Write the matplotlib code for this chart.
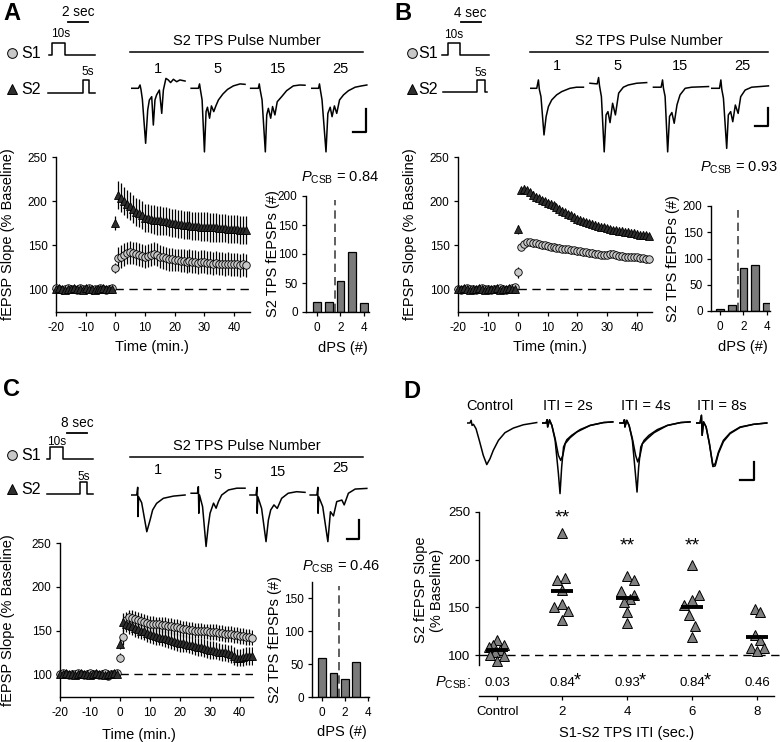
import matplotlib
matplotlib.use("Agg")
import matplotlib.pyplot as plt
import numpy as np

plt.rcParams['font.family'] = ['Liberation Sans', 'DejaVu Sans']
plt.rcParams['mathtext.fontset'] = 'custom'
plt.rcParams['mathtext.rm'] = 'Liberation Sans'
plt.rcParams['mathtext.it'] = 'Liberation Sans:italic'
plt.rcParams['axes.unicode_minus'] = False
plt.rcParams['axes.facecolor'] = 'none'
plt.rcParams['axes.linewidth'] = 1.0
plt.rcParams['xtick.major.size'] = 3
plt.rcParams['ytick.major.size'] = 3
plt.rcParams['xtick.major.width'] = 0.9
plt.rcParams['ytick.major.width'] = 0.9
plt.rcParams['xtick.major.pad'] = 4.5
plt.rcParams['ytick.major.pad'] = 3

# ---------------- data ----------------
minutes = np.arange(-20, 45)  # one sample per minute, TPS at 0

# baseline (-20..-1 min), % of baseline
A_base_s1 = [101, 100, 99, 100, 101, 100, 100, 99, 101, 100, 100, 101, 99, 100, 100, 101, 100, 99, 100, 101]
A_base_s2 = [100, 101, 100, 99, 100, 100, 101, 100, 100, 99, 101, 100, 100, 99, 100, 100, 101, 100, 100, 100]
B_base_s1 = [100, 99, 100, 101, 100, 100, 99, 100, 101, 100, 100, 99, 100, 100, 101, 100, 99, 100, 101, 102]
B_base_s2 = [100, 100, 101, 100, 99, 100, 100, 101, 100, 99, 100, 100, 100, 101, 99, 100, 100, 101, 100, 100]
C_base_s1 = [100, 101, 100, 99, 100, 100, 101, 100, 99, 100, 101, 100, 100, 99, 100, 101, 98, 100, 100, 101]
C_base_s2 = [100, 100, 101, 100, 100, 99, 100, 101, 100, 100, 99, 100, 101, 100, 100, 99, 100, 100, 101, 100]

# 0..44 min after TPS
A_s1 = [124, 135, 137, 139, 141, 142, 141, 140, 139, 138, 137, 138, 139, 140, 139, 137, 136, 135, 134, 134,
        133, 133, 132, 132, 131, 132, 131, 131, 130, 131, 131, 130, 130, 129, 130, 129, 129, 128, 129, 128,
        128, 128, 127, 128, 127]
A_s2 = [175, 207, 204, 200, 197, 194, 191, 188, 186, 184, 181, 181, 180, 179, 178, 178, 177, 177, 176, 175,
        175, 174, 174, 173, 173, 173, 172, 172, 172, 171, 171, 171, 170, 170, 170, 169, 169, 169, 168, 168,
        168, 168, 167, 167, 167]
B_s1 = [119, 148, 151, 153, 153, 152, 152, 151, 150, 150, 149, 148, 148, 147, 147, 146, 145, 145, 144, 144,
        143, 143, 142, 142, 141, 141, 140, 140, 139, 139, 139, 140, 140, 139, 138, 138, 137, 137, 137, 136,
        136, 135, 135, 134, 134]
B_s2 = [168, 212, 214, 212, 210, 207, 205, 203, 201, 200, 198, 197, 195, 193, 191, 189, 187, 185, 184, 182,
        180, 179, 177, 176, 175, 174, 173, 172, 171, 170, 169, 168, 167, 167, 166, 166, 165, 165, 164, 164,
        163, 162, 162, 161, 160]
C_s1 = [119, 143, 162, 165, 164, 163, 162, 161, 160, 159, 158, 158, 157, 157, 156, 156, 155, 155, 154, 154,
        153, 152, 152, 151, 151, 150, 150, 150, 149, 149, 148, 148, 148, 147, 147, 146, 146, 146, 145, 145,
        144, 144, 143, 143, 142]
C_s2 = [135, 160, 158, 156, 155, 153, 152, 150, 149, 147, 146, 145, 144, 143, 142, 141, 140, 139, 138, 137,
        136, 136, 135, 134, 133, 132, 131, 131, 130, 129, 128, 128, 127, 126, 125, 125, 124, 123, 121, 119,
        119, 120, 121, 121, 121]

# SEM: baseline, first point after TPS, rest
A_sem = {'s1': (2, 6, 13), 's2': (2, 8, 16)}
B_sem = {'s1': (2, 6, 4), 's2': (2, 5, 4)}
C_sem = {'s1': (2, 5, 9), 's2': (2, 6, 10)}

# dPS histograms
dps = [0, 1, 2, 3, 4]
A_counts = [17, 17, 53, 103, 15]
B_counts = [4, 12, 82, 88, 16]
C_counts = [59, 36, 27, 54, 0]

# example fEPSP traces (ms, mV)
A_traces = [
    ([0, 3.3, 4.0, 4.4, 5.0, 6.4, 7.3, 8.0, 9.0, 9.7, 10.4, 11.1, 12.3, 13.3, 14.0, 15.1, 16.1, 17.1, 18.3, 19.7, 21.1, 23.3],
     [0, 0, 0.15, -0.05, -0.5, -2.5, -0.98, -0.53, -0.38, -1.67, -0.53, -0.3, -0.08, -1.14, -0.08, 0.45, 0.38, 0.26, 0.41, 0.3, 0.38, 0.33]),
    ([0, 3.1, 3.6, 4.0, 4.7, 5.7, 6.4, 7.0, 7.9, 8.7, 9.7, 10.6, 11.7, 13.6, 15.6, 18.1, 21.0, 23.1],
     [0, 0, 0.2, -0.08, -0.53, -2.89, -1.06, -0.86, -1.36, -0.8, -1.06, -0.8, -0.53, -0.26, -0.05, 0.11, 0.2, 0.18]),
    ([0, 3.3, 3.7, 4.1, 4.9, 6.3, 6.9, 7.6, 8.6, 9.4, 10.4, 11.4, 13.3, 15.4, 18.3, 21.1, 23.3],
     [0, 0, 0.2, -0.08, -0.53, -2.89, -1.21, -0.91, -1.36, -0.83, -1.21, -0.61, -0.38, -0.11, 0.11, 0.15, 0.14]),
    ([0, 2.9, 3.3, 3.7, 4.4, 6.1, 6.9, 7.9, 8.7, 9.7, 10.7, 11.9, 13.6, 15.7, 18.6, 21.4, 23.6],
     [0, 0, 0.2, -0.08, -0.53, -2.89, -1.14, -0.86, -1.29, -0.8, -1.14, -0.53, -0.3, -0.11, 0.05, 0.11, 0.15]),
]
B_traces = [
    ([0, 2.9, 3.6, 4.0, 4.7, 6.0, 6.9, 7.9, 9.3, 11.4, 13.6, 17.1, 20.0, 22.9],
     [0, 0, 0.38, -0.05, -0.38, -2.12, -1.29, -0.83, -0.53, -0.3, -0.15, 0, 0.05, 0.05]),
    ([0, 3.1, 3.7, 4.1, 4.9, 6.1, 6.9, 7.7, 8.6, 9.7, 10.9, 12.3, 14.3, 16.4, 20.0, 24.3],
     [0, -0.03, 0.26, -0.12, -0.61, -3.12, -1.44, -1.29, -1.79, -0.91, -1.44, -0.45, -0.18, -0.08, 0, 0.03]),
    ([0, 3.3, 3.9, 4.3, 5.0, 6.1, 6.9, 7.9, 8.9, 10.1, 11.4, 13.6, 16.4, 23.6],
     [0, 0, 0.33, -0.05, -0.42, -2.94, -1.33, -1.15, -1.64, -0.8, -0.35, -0.05, 0, 0.03]),
    ([0, 3.3, 3.9, 4.3, 5.0, 6.4, 7.1, 8.1, 9.0, 10.1, 11.3, 12.4, 14.3, 17.1, 24.3],
     [0, 0, 0.38, -0.05, -0.45, -2.73, -1.21, -1.06, -1.52, -0.76, -1.14, -0.38, -0.08, 0.05, 0.11]),
]
B_trace_base = [0, 0.23, 0.05, 0]
C_traces = [
    ([0, 2.6, 3.0, 3.1, 3.4, 4.7, 6.9, 8.3, 9.4, 11.1, 14.0, 18.3, 23.3],
     [0, 0, 0.35, -0.98, -0.08, -0.35, -1.67, -1.14, -0.68, -0.38, -0.15, -0.05, 0]),
    ([0, 2.7, 3.1, 3.3, 3.6, 4.9, 6.4, 7.3, 8.1, 9.6, 10.7, 11.7, 13.1, 16.0, 19.6, 23.1],
     [0, 0, 0.3, -0.91, -0.08, -0.61, -2.42, -1.52, -0.91, -0.45, -0.68, -0.38, -0.08, 0.15, 0.23, 0.23]),
    ([0, 2.6, 3.0, 3.1, 3.4, 5.0, 6.9, 7.9, 8.9, 10.3, 11.7, 13.6, 16.4, 20.0, 23.6],
     [0, 0, 0.35, -0.83, -0.08, -0.61, -2.12, -1.14, -0.68, -0.45, -0.61, -0.15, 0.08, 0.15, 0.12]),
    ([0, 2.9, 3.3, 3.4, 3.7, 5.4, 7.6, 8.7, 10.0, 11.4, 13.6, 14.6, 16.4, 19.3, 24.3],
     [0, 0, 0.35, -0.83, -0.08, -0.53, -2.12, -0.76, -0.95, -0.3, -0.23, -0.45, 0.08, 0.27, 0.3]),
]
C_trace_base = [0, 0.08, 0, 0]
D_labels = ['Control', 'ITI = 2s', 'ITI = 4s', 'ITI = 8s']
D_traces = [
    [([0, 1.4, 1.9, 2.3, 2.9, 4.0, 5.4, 7.1, 8.6, 10.0, 11.4, 13.6, 16.4, 20.0, 24.3, 30.0],
      [0, 0, 0.12, -0.11, -0.06, -0.26, -0.79, -1.47, -1.89, -1.62, -1.24, -0.79, -0.44, -0.23, -0.08, 0.02])],
    [([0, 1.4, 1.9, 2.1, 2.9, 3.9, 5.3, 6.7, 7.4, 8.1, 8.9, 10.3, 12.4, 16.0, 20.3, 26.0, 30.0],
      [0, 0, 0.15, -0.18, 0.15, -0.11, -0.79, -2.3, -3.21, -2.0, -1.09, -0.76, -0.56, -0.3, -0.11, 0.02, 0.05]),
     ([0, 1.4, 1.9, 2.1, 2.9, 3.9, 5.3, 6.7, 7.7, 8.6, 9.6, 11.7, 14.6, 20.3, 26.0, 30.0],
      [0, 0, 0.15, -0.18, 0.12, -0.11, -0.71, -1.47, -1.7, -1.47, -0.94, -0.67, -0.41, -0.11, 0.02, 0.05])],
    [([0, 1.4, 1.9, 2.1, 2.9, 3.9, 5.3, 6.6, 7.3, 8.0, 8.9, 10.3, 12.4, 16.0, 20.3, 26.0, 30.0],
      [0, 0, 0.15, -0.18, 0.12, -0.11, -0.79, -2.3, -3.14, -2.0, -1.09, -0.79, -0.56, -0.3, -0.11, 0.02, 0.05]),
     ([0, 1.4, 1.9, 2.1, 2.9, 3.9, 5.3, 6.7, 7.6, 8.6, 9.6, 11.7, 14.6, 20.3, 26.0, 30.0],
      [0, 0, 0.15, -0.18, 0.12, -0.11, -0.71, -1.47, -1.77, -1.47, -0.94, -0.71, -0.44, -0.11, 0.02, 0.05])],
    [([0, 1.4, 2.0, 2.3, 2.9, 4.0, 5.4, 6.9, 7.9, 9.3, 11.4, 14.3, 18.6, 24.3, 30.0],
      [0, 0, 0.35, -0.56, 0.05, -0.18, -0.94, -1.92, -1.85, -1.32, -0.79, -0.45, -0.18, -0.06, 0]),
     ([0, 1.4, 2.0, 2.3, 2.9, 4.0, 5.4, 6.9, 7.9, 9.3, 11.4, 14.3, 18.6, 24.3, 30.0],
      [0, 0, 0.35, -0.56, 0.05, -0.18, -0.91, -1.98, -1.95, -1.38, -0.85, -0.48, -0.2, -0.06, 0])],
]

# panel D: S2 potentiation per ITI group
D_groups = ['Control', '2', '4', '6', '8']
D_values = [
    [116, 111, 110, 108, 105, 103, 100, 99, 94],
    [228, 181, 179, 168, 153, 150, 146, 137],
    [183, 179, 167, 163, 159, 156, 145, 134],
    [194, 163, 158, 152, 142, 130, 119],
    [148, 145, 121, 116, 107, 107, 104],
]
D_jitter = [
    [0.0, -0.07, 0.11, -0.12, 0.05, -0.03, -0.11, 0.1, 0.0],
    [0.0, 0.05, -0.08, 0.0, 0.0, -0.12, 0.09, 0.0],
    [0.0, 0.11, -0.1, 0.1, 0.05, -0.05, 0.0, 0.0],
    [0.0, 0.1, 0.0, -0.13, -0.05, 0.05, 0.0],
    [-0.04, 0.05, -0.04, 0.05, -0.1, 0.1, 0.0],
]
D_means = [105, 167, 160, 150, 119]
D_pcsb = ['0.03', '0.84', '0.93', '0.84', '0.46']
D_pstar = [False, True, True, True, False]
D_sig = ['', '**', '**', '**', '']
D_sig_y = [0, 244, 214, 214, 0]

# ---------------- figure ----------------
W, H = 780, 742
fig = plt.figure(figsize=(W / 100, H / 100), dpi=100)


def px_axes(l, t, r, b):
    return fig.add_axes([l / W, 1 - b / H, (r - l) / W, (b - t) / H])


ov = fig.add_axes([0, 0, 1, 1])
ov.set_xlim(0, W)
ov.set_ylim(H, 0)
ov.axis('off')


def clean(ax):
    for s in ['top', 'right']:
        ax.spines[s].set_visible(False)


def sem_list(sem):
    return [sem[0]] * 20 + [sem[1]] + [sem[2]] * 44


def timecourse(box, base1, post1, base2, post2, sem, xmax, ylab_x, xlab_pos):
    ax = px_axes(*box)
    s1 = np.array(base1 + post1, float)
    s2 = np.array(base2 + post2, float)
    ax.hlines(100, 0, xmax, colors='k', linestyles=(0, (6, 4)), lw=1, zorder=1)
    ax.errorbar(minutes, s1, yerr=sem_list(sem['s1']), fmt='none', ecolor='k', elinewidth=0.9, capsize=0, zorder=2)
    ax.errorbar(minutes, s2, yerr=sem_list(sem['s2']), fmt='none', ecolor='k', elinewidth=0.9, capsize=0, zorder=2)
    ax.plot(minutes, s1, 'o', ms=5.4, mfc='#c8c8c8', mec='k', mew=0.6, zorder=3, clip_on=False)
    ax.plot(minutes, s2, '^', ms=5.8, mfc='#2e2e2e', mec='k', mew=0.6, zorder=4, clip_on=False)
    ax.set_xlim(-20, xmax)
    ax.set_ylim(74, 250)
    ax.set_xticks([-20, -10, 0, 10, 20, 30, 40])
    ax.set_yticks([100, 150, 200, 250])
    ax.tick_params(labelsize=8.5)
    clean(ax)
    ax.set_ylabel('fEPSP Slope (% Baseline)', fontsize=10.5)
    ax.yaxis.set_label_coords(ylab_x, 0.5)
    ax.set_xlabel('Time (min.)', fontsize=10.5)
    ax.xaxis.set_label_coords(*xlab_pos)
    return ax


def histogram(box, counts, xlim, ymax, yticks, ylab_x, xlab_pos):
    ax = px_axes(*box)
    ax.bar(dps, counts, width=0.68, color='#7a7a7a', edgecolor='k', lw=0.9, zorder=2)
    ax.vlines(1.5, 0, ymax * 0.965, colors='#444444', linestyles=(0, (5, 3)), lw=1.2, zorder=1)
    ax.set_xlim(*xlim)
    ax.set_ylim(0, ymax)
    ax.set_xticks([0, 2, 4])
    ax.set_yticks(yticks)
    ax.tick_params(labelsize=8.5)
    clean(ax)
    ax.set_ylabel('S2 TPS fEPSPs (#)', fontsize=10.5)
    ax.yaxis.set_label_coords(ylab_x, 0.5)
    ax.set_xlabel('dPS (#)', fontsize=10.5)
    ax.xaxis.set_label_coords(*xlab_pos)
    return ax


def trace_row(x_left, y_base, width, offsets, traces, base, bar):
    ax = px_axes(x_left, y_base - 32, x_left + width, y_base + 78)
    ax.set_xlim(0, width * 3 / 7)
    ax.set_ylim(-78 / 22, 32 / 22)
    ax.axis('off')
    for off, group, b in zip(offsets, traces, base):
        for t, v in group:
            ax.plot(np.array(t) + off, np.array(v) + b, color='k', lw=1.1)
    bx, by, bw, bh = bar
    ax.plot([bx - bw, bx, bx], [by, by, by + bh], color='k', lw=1.6)


def protocol(mx, tx, y1, y2, s1x, s1y, s2x, s2y, lab10, lab5, iti, iti_pos, bar_x, bar_y):
    ov.plot(mx, y1, 'o', ms=7, mfc='#c8c8c8', mec='k', mew=0.7)
    ov.plot(mx, y2 - 1, '^', ms=7.5, mfc='#2e2e2e', mec='k', mew=0.7)
    ov.text(tx, y1, 'S1', fontsize=11.5, va='center', ha='left')
    ov.text(tx, y2, 'S2', fontsize=11.5, va='center', ha='left')
    ov.plot(s1x, s1y, color='k', lw=1.1)
    ov.plot(s2x, s2y, color='k', lw=1.1)
    ov.text(*lab10, '10s', fontsize=8.5, ha='center', va='center')
    ov.text(*lab5, '5s', fontsize=8.5, ha='center', va='center')
    ov.text(*iti_pos, iti, fontsize=9.8, ha='center', va='center')
    ov.plot(bar_x, [bar_y, bar_y], color='k', lw=1.3)


def pulse_header(x0, x1, y_line, num_x, num_y):
    ov.text((x0 + x1) / 2, y_line - 11, 'S2 TPS Pulse Number', fontsize=10.5, ha='center', va='center')
    ov.plot([x0, x1], [y_line, y_line], color='k', lw=1.1)
    for n, x, y in zip(['1', '5', '15', '25'], num_x, num_y):
        ov.text(x, y, n, fontsize=10.5, ha='center', va='center')


# ---- panel letters ----
for letter, x, y in [('A', 12, 13), ('B', 403, 13), ('C', 11, 390), ('D', 412, 392)]:
    ov.text(x, y, letter, fontsize=17, fontweight='bold', ha='center', va='center')

# ---- panel A ----
protocol(12, 21, 53, 90, [49, 52, 52, 65, 65, 95], [55, 55, 43, 43, 55, 55],
         [48, 83, 83, 89, 89, 95], [93, 93, 80, 80, 93, 93],
         (61, 34), (88, 72), '2 sec', (78, 12), [68, 88], 22)
pulse_header(130, 363, 52, [158, 218, 278, 340], [69, 69, 69, 69])
trace_row(130.7, 88.3, 240, [0, 25.9, 51.4, 77.6], [[tr] for tr in A_traces], [0, 0, 0, 0],
          (100.9, -1.97, 5.5, 1.02))
timecourse((56, 157, 250, 312), A_base_s1, A_s1, A_base_s2, A_s2, A_sem, 45.4, -0.21, (0.495, -0.18))
histogram((306, 196, 369, 312), A_counts, (-0.94, 4.43), 200, [0, 50, 100, 150, 200], -0.42, (0.59, -0.25))
ov.text(340, 178, r'$P_{\mathregular{CSB}}$ = 0.84', fontsize=10.5, ha='center', va='center')

# ---- panel B ----
protocol(412, 418, 53, 90, [442, 448, 448, 460, 460, 489], [55, 55, 43, 43, 55, 55],
         [443, 477, 477, 485, 485, 487], [92, 92, 80, 80, 92, 92],
         (454, 35), (481, 73), '4 sec', (470, 13), [461, 481], 22)
pulse_header(530, 768, 52, [557, 618, 680, 742], [66, 66, 66, 66])
trace_row(530, 88.3, 245, [0, 25.7, 52.9, 77.9], [[tr] for tr in B_traces], B_trace_base,
          (101.9, -1.71, 5.5, 0.8))
timecourse((458, 157, 652, 312), B_base_s1, B_s1, B_base_s2, B_s2, B_sem, 45.0, -0.21, (0.474, -0.18))
histogram((711, 206, 770, 311), B_counts, (-0.77, 4.26), 200, [0, 50, 100, 150, 200], -0.52, (0.54, -0.28))
ov.text(778, 168, r'$P_{\mathregular{CSB}}$ = 0.93', fontsize=10.5, ha='right', va='center')

# ---- panel C ----
protocol(12, 21, 455, 490, [47, 50, 50, 63, 63, 93], [459, 459, 447, 447, 459, 459],
         [47, 80, 80, 87, 87, 93], [494, 494, 482, 482, 494, 494],
         (57, 442), (84, 477), '8 sec', (77, 423), [67, 87], 433)
pulse_header(130, 363, 457, [158, 218, 278, 340], [470, 475, 472, 468])
trace_row(130.7, 495, 240, [0, 25.9, 51.1, 76.9], [[tr] for tr in C_traces], C_trace_base,
          (98.0, -2.02, 5.4, 0.88))
timecourse((60, 543, 253, 697), C_base_s1, C_s1, C_base_s2, C_s2, C_sem, 44.5, -0.233, (0.41, -0.2))
histogram((312, 582, 369, 697), C_counts, (-0.88, 4.12), 175, [0, 50, 100, 150], -0.53, (0.53, -0.245))
ov.text(341, 567, r'$P_{\mathregular{CSB}}$ = 0.46', fontsize=10.5, ha='center', va='center')

# ---- panel D traces ----
for lab, x in zip(D_labels, [490, 568, 646, 722]):
    ov.text(x, 406, lab, fontsize=10.5, ha='center', va='center')
trace_row(466.7, 423, 313, [0, 32.6, 65.7, 98.6], D_traces, [0, 0, 0, 0], (123.1, -2.6, 6.0, 0.83))

# ---- panel D scatter ----
axd = px_axes(479, 512, 780, 696)
axd.hlines(100, -0.28, 4.35, colors='k', linestyles=(0, (6, 4)), lw=1, zorder=1, clip_on=False)
for i, (vals, jit) in enumerate(zip(D_values, D_jitter)):
    axd.plot(i + np.array(jit), vals, '^', ms=7.5, mfc='#7f7f7f', mec='k', mew=0.7, ls='none', zorder=3)
    axd.hlines(D_means[i], i - 0.17, i + 0.17, colors='k', lw=2.8, zorder=4)
    axd.text(i, 71, D_pcsb[i], fontsize=9.5, ha='center', va='center')
    if D_pstar[i]:
        axd.annotate('*', (i, 71), xytext=(11, 1), textcoords='offset points', fontsize=13,
                     ha='center', va='center')
    if D_sig[i]:
        axd.text(i, D_sig_y[i], D_sig[i], fontsize=14, ha='center', va='center')
axd.set_xlim(-0.28, 4.35)
axd.set_ylim(57, 250)
axd.set_xticks(range(5))
axd.set_xticklabels(D_groups)
axd.set_yticks([100, 150, 200, 250])
axd.tick_params(labelsize=9.5)
axd.tick_params(axis='x', pad=4)
clean(axd)
axd.spines['left'].set_bounds(90, 250)
axd.spines['bottom'].set_bounds(-0.28, 4.26)
axd.set_xlabel('S1-S2 TPS ITI (sec.)', fontsize=10.5)
axd.xaxis.set_label_coords(0.49, -0.165)
ov.text(429, 590, 'S2 fEPSP Slope\n(% Baseline)', fontsize=10.5, rotation=90, ha='center', va='center',
        multialignment='center')
ov.text(471, 683, r'$P_{\mathregular{CSB}}$:', fontsize=10.5, ha='right', va='center')

fig.savefig('out.png', dpi=100)
